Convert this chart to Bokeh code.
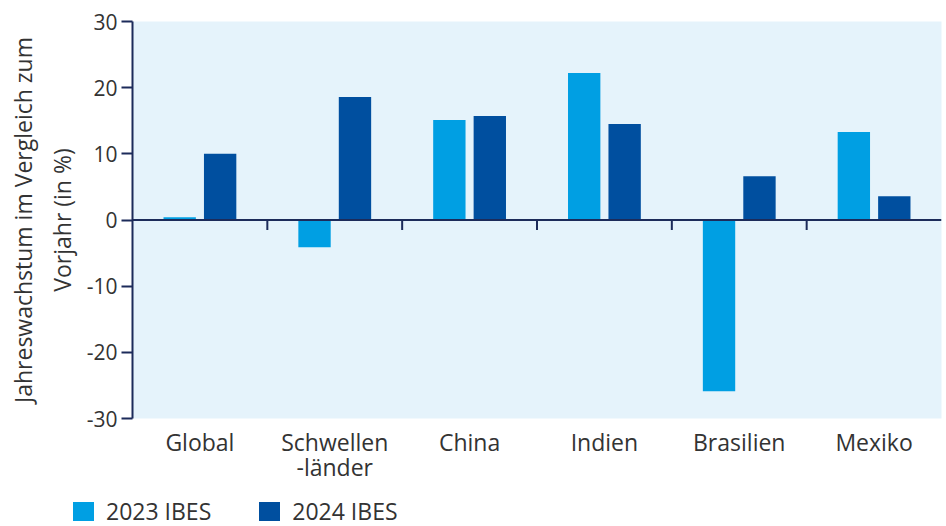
from bokeh.plotting import figure
from bokeh.models import Range1d, FixedTicker, Span, ColumnDataSource, LinearAxis, Div
from bokeh.layouts import column
from bokeh.embed import file_html
from bokeh.resources import INLINE

categories = ["Global", "Schwellen\n-länder", "China", "Indien", "Brasilien", "Mexiko"]
series_names = ["2023 IBES", "2024 IBES"]
values_2023 = [0.4, -4.1, 15.1, 22.2, -25.9, 13.3]
values_2024 = [10.0, 18.6, 15.7, 14.5, 6.6, 3.6]
y_ticks = [-30, -20, -10, 0, 10, 20, 30]

C23 = "#009FE3"
C24 = "#004F9F"
NAVY = "#1C2B5A"
TXT = "#333333"
FONT = "Open Sans"

n = len(categories)
centers = [i + 0.5 for i in range(n)]
offset = 0.15
bw = 0.24

p = figure(width=946, height=485, output_backend="svg", toolbar_location=None,
           x_range=Range1d(0, n), y_range=Range1d(-30, 30),
           min_border_left=132, min_border_right=5, min_border_top=21, min_border_bottom=67)
p.background_fill_color = "#E5F3FB"
p.border_fill_color = "white"
p.outline_line_color = None
p.xgrid.visible = False
p.ygrid.visible = False

s23 = ColumnDataSource(dict(x=[c - offset for c in centers], top=values_2023))
s24 = ColumnDataSource(dict(x=[c + offset for c in centers], top=values_2024))
p.vbar(x="x", top="top", bottom=0, width=bw, source=s23, fill_color=C23, line_color=None)
p.vbar(x="x", top="top", bottom=0, width=bw, source=s24, fill_color=C24, line_color=None)

# zero line
p.add_layout(Span(location=0, dimension="width", line_color=NAVY, line_width=2))
# category boundary ticks
bounds = list(range(1, n))
p.segment(x0=bounds, x1=bounds, y0=[0] * len(bounds), y1=[-1.5] * len(bounds),
          line_color=NAVY, line_width=2)

# y axis
ya = p.yaxis[0]
ya.ticker = FixedTicker(ticks=y_ticks)
ya.major_label_overrides = {t: str(t) for t in y_ticks}
ya.axis_line_color = NAVY
ya.axis_line_width = 2
ya.major_tick_line_color = NAVY
ya.major_tick_line_width = 2
ya.major_tick_out = 11
ya.major_tick_in = 0
ya.minor_tick_line_color = None
ya.major_label_text_font = FONT
ya.major_label_text_font_size = "21px"
ya.major_label_text_color = TXT
ya.major_label_standoff = 4
ya.axis_label = "Jahreswachstum im Vergleich zum\nVorjahr (in %)"
ya.axis_label_text_font = FONT
ya.axis_label_text_font_size = "23px"
ya.axis_label_text_font_style = "normal"
ya.axis_label_text_color = TXT
ya.axis_label_standoff = 6

# x axes: first and second line of category labels
line1 = [c.split("\n")[0] for c in categories]
line2 = [c.split("\n")[1] if "\n" in c else "" for c in categories]

def style_xaxis(ax, standoff):
    ax.axis_line_color = None
    ax.major_tick_line_color = None
    ax.minor_tick_line_color = None
    ax.major_tick_out = 0
    ax.major_tick_in = 0
    ax.major_label_text_font = FONT
    ax.major_label_text_font_size = "23px"
    ax.major_label_text_color = TXT
    ax.major_label_standoff = standoff

xa = p.xaxis[0]
xa.ticker = FixedTicker(ticks=centers)
xa.major_label_overrides = {c: t for c, t in zip(centers, line1)}
style_xaxis(xa, 7)

t2 = [c for c, t in zip(centers, line2) if t]
xa2 = LinearAxis(ticker=FixedTicker(ticks=t2),
                 major_label_overrides={c: t for c, t in zip(centers, line2) if t})
style_xaxis(xa2, -10)
p.add_layout(xa2, "below")

# legend strip below the chart
items_html = ""
for i, (name, col) in enumerate(zip(series_names, [C23, C24])):
    ml = "0" if i == 0 else "48px"
    items_html += (f'<span style="display:inline-flex;align-items:center;margin-left:{ml}">'
                   f'<span style="display:inline-block;width:21px;height:19px;background:{col};'
                   f'margin-right:12px"></span>{name}</span>')
legend_div = Div(text=(f'<div style="font-family:\'{FONT}\';font-size:23px;color:{TXT};'
                       f'display:flex;align-items:center;padding-left:73px;padding-top:12px;'
                       f'line-height:28px;white-space:nowrap">{items_html}</div>'),
                 width=946, height=41, margin=0)

layout = column(p, legend_div, spacing=0)
open("out.html", "w").write(file_html(layout, INLINE))
